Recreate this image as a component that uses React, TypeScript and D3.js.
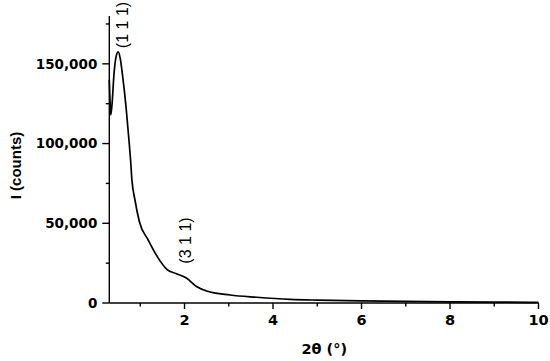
import React, { useMemo } from "react";
import * as d3 from "d3";

// 2θ (°) / counts
const twoTheta = [
  0.3, 0.315, 0.332, 0.36, 0.407, 0.45, 0.5, 0.55, 0.594, 0.678, 0.746, 0.78,
  0.81, 0.88, 0.98, 1.18, 1.41, 1.6, 1.83, 2.05, 2.28, 2.5, 3.03, 3.63, 4.39,
  5, 6, 7, 8, 9, 10,
];
const counts = [
  140000, 128000, 118000, 124000, 144000, 154000, 157500, 153000, 144000,
  123000, 101600, 90000, 77500, 64600, 51000, 39500, 28000, 21100, 18200,
  15500, 10200, 7500, 5000, 3600, 2300, 1800, 1300, 1000, 750, 550, 400,
];

const xMajor = [2, 4, 6, 8, 10];
const xMinor = [1, 3, 5, 7, 9];
const yMajor = [0, 50000, 100000, 150000];
const yMinor = [25000, 75000, 125000, 175000];

const peaks = [
  { label: "(1 1 1)", x: 0.5 },
  { label: "(3 1 1)", x: 1.95 },
];

export default function App() {
  const width = 550;
  const height = 361;
  const margin = { top: 16, right: 11.5, bottom: 58, left: 109.3 };
  const innerWidth = width - margin.left - margin.right;
  const innerHeight = height - margin.top - margin.bottom;

  const xScale = useMemo(
    () => d3.scaleLinear().domain([0.3, 10]).range([0, innerWidth]),
    [innerWidth],
  );
  const yScale = useMemo(
    () => d3.scaleLinear().domain([0, 180000]).range([innerHeight, 0]),
    [innerHeight],
  );

  const line = d3
    .line<number>()
    .x((_, i) => xScale(twoTheta[i]))
    .y((d) => yScale(d))
    .curve(d3.curveMonotoneX);

  const fmt = d3.format(",");
  const tickFont = "'DejaVu Sans', sans-serif";

  return (
    <svg
      width={width}
      height={height}
      style={{ position: "absolute", left: 0, top: 0, background: "#fff" }}
    >
      <g transform={`translate(${margin.left},${margin.top})`}>
        {/* courbe */}
        <path
          d={line(counts) ?? ""}
          fill="none"
          stroke="#000"
          strokeWidth={1.7}
          strokeLinejoin="round"
        />

        {/* axes */}
        <g stroke="#000" strokeWidth={1.4}>
          <line x1={0} y1={innerHeight} x2={innerWidth} y2={innerHeight} />
          <line x1={0} y1={0} x2={0} y2={innerHeight} />
          {xMajor.map((t) => (
            <line key={t} x1={xScale(t)} x2={xScale(t)} y1={innerHeight} y2={innerHeight + 6} />
          ))}
          {xMinor.map((t) => (
            <line key={t} x1={xScale(t)} x2={xScale(t)} y1={innerHeight} y2={innerHeight + 3.5} />
          ))}
          {yMajor.map((t) => (
            <line key={t} x1={-7} x2={0} y1={yScale(t)} y2={yScale(t)} />
          ))}
          {yMinor.map((t) => (
            <line key={t} x1={-3.5} x2={0} y1={yScale(t)} y2={yScale(t)} />
          ))}
        </g>

        {/* graduations */}
        <g fontFamily={tickFont} fontWeight="bold" fill="#000">
          {xMajor.map((t) => (
            <text key={t} x={xScale(t)} y={innerHeight + 21.5} textAnchor="middle" fontSize={14.5}>
              {t}
            </text>
          ))}
          {yMajor.map((t) => (
            <text key={t} x={-12} y={yScale(t) + 4.9} textAnchor="end" fontSize={13.5}>
              {fmt(t)}
            </text>
          ))}
          <text x={215} y={innerHeight + 51} textAnchor="middle" fontSize={14.5}>
            2θ (°)
          </text>
        </g>

        {/* titre axe y */}
        <text
          transform={`translate(${21 - margin.left},${165.5 - margin.top}) rotate(-90)`}
          textAnchor="middle"
          fontFamily="'Liberation Sans', Arial, sans-serif"
          fontWeight="bold"
          fontSize={15}
        >
          I (counts)
        </text>

        {/* pics */}
        {peaks.map((p, i) => (
          <text
            key={p.label}
            transform={`translate(${xScale(p.x) + (i === 0 ? 9.5 : 8.5)},${
              i === 0 ? 25 - margin.top : 240.5 - margin.top
            }) rotate(-90)`}
            textAnchor="middle"
            fontFamily="'Liberation Sans', Arial, sans-serif"
            fontSize={16}
          >
            {p.label}
          </text>
        ))}
      </g>
    </svg>
  );
}
